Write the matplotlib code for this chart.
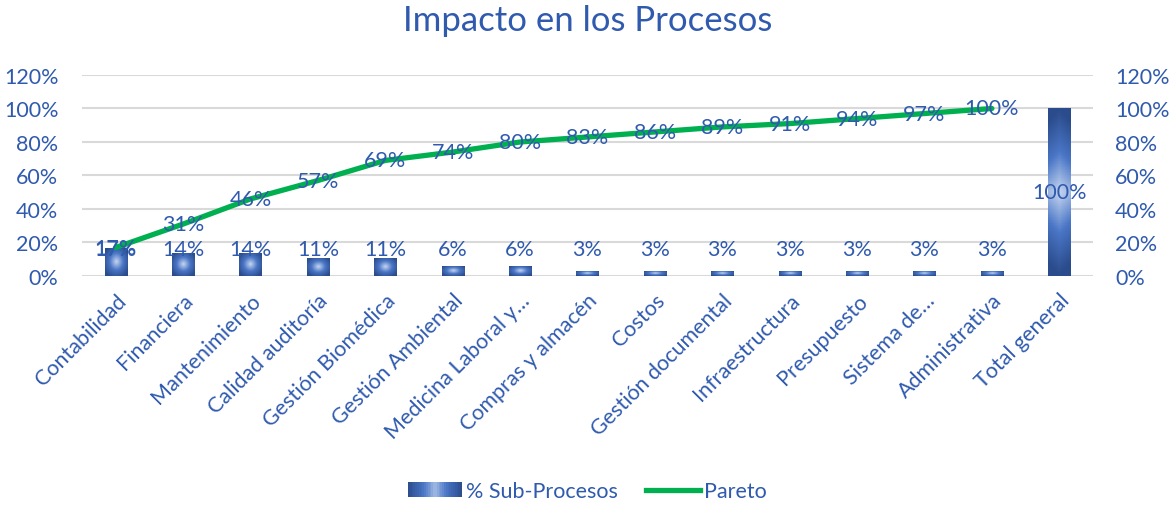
import numpy as np
import matplotlib
matplotlib.use('Agg')
import matplotlib.pyplot as plt
from matplotlib.patches import Rectangle
from matplotlib.lines import Line2D
from matplotlib.colors import LinearSegmentedColormap
from matplotlib.legend_handler import HandlerBase

categories = ['Contabilidad', 'Financiera', 'Mantenimiento', 'Calidad auditoría',
              'Gestión Biomédica', 'Gestión Ambiental', 'Medicina Laboral y…',
              'Compras y almacén', 'Costos', 'Gestión documental', 'Infraestructura',
              'Presupuesto', 'Sistema de…', 'Administrativa', 'Total general']
sub_pct = [17, 14, 14, 11, 11, 6, 6, 3, 3, 3, 3, 3, 3, 3, 100]
pareto = [17, 31, 46, 57, 69, 74, 80, 83, 86, 89, 91, 94, 97, 100]

TXT = '#2F5AAE'
plt.rcParams['font.family'] = ['Lato', 'DejaVu Sans']

fig = plt.figure(figsize=(11.75, 5.06), dpi=100)
ax = fig.add_axes([0.0698, 0.4526, 0.8604, 0.3972])
ax2 = ax.twinx()

x = np.arange(len(categories))
vals = np.array(sub_pct) / 100
cmap = LinearSegmentedColormap.from_list('g', ['#C6D6F0', '#4A76C6', '#2B4C8C'])


class GradHandler(HandlerBase):
    # legend key: horizontal gradient, light in the middle
    def create_artists(self, legend, orig, xd, yd, w, h, fontsize, trans):
        n = 30
        arts = []
        for i in range(n):
            t = 0.15 + 0.85 * abs((i + 0.5) / n - 0.5) * 2
            arts.append(Rectangle((xd + w * i / n, yd), w / n + 0.3, h,
                                  facecolor=cmap(t), edgecolor='none',
                                  transform=trans))
        return arts


# radial-gradient bars
bw = 0.33
yy, xx = np.mgrid[-1:1:60j, -1:1:60j]
for xi, v in zip(x, vals):
    if v > 0.5:
        r = np.abs(yy) * 1.0 + 0.15 * np.abs(xx)
    else:
        r = np.sqrt(xx ** 2 + yy ** 2) / 1.2
    img = ax.imshow(r, cmap=cmap, vmin=0, vmax=1,
                    extent=(xi - bw / 2, xi + bw / 2, 0, v), aspect='auto', zorder=2)
    rect = Rectangle((xi - bw / 2, 0), bw, v, transform=ax.transData,
                     facecolor='none', edgecolor='none')
    ax.add_patch(rect)
    img.set_clip_path(rect)

for xi, v in zip(x, vals):
    ytxt = v / 2 if v > 0.5 else 0.16
    ax.text(xi, ytxt, f'{int(round(v * 100))}%', ha='center', va='center',
            color=TXT, fontsize=15.5, zorder=5)

px = x[:len(pareto)]
pv = np.array(pareto) / 100
ax2.plot(px, pv, color='#00B050', lw=3.8, solid_capstyle='round', zorder=3)
for xi, v in zip(px, pv):
    ax2.text(xi, v, f'{int(round(v * 100))}%', ha='center', va='center',
             color=TXT, fontsize=15.5, zorder=6)

for a in (ax, ax2):
    a.set_ylim(0, 1.2)
    a.set_yticks(np.arange(0, 1.21, 0.2))
    a.set_yticklabels([f'{int(round(t * 100))}%' for t in np.arange(0, 1.21, 0.2)])
    a.tick_params(axis='y', length=0, labelsize=15.5, labelcolor=TXT, pad=17)
    for s in a.spines.values():
        s.set_visible(False)
ax.set_xlim(-0.5, len(categories) - 0.5)
ax.grid(axis='y', color='#D9D9D9', lw=1.5, zorder=0)
ax.set_axisbelow(True)
ax.set_xticks(x)
ax.set_xticklabels(categories, rotation=45, ha='right', rotation_mode='anchor',
                   color=TXT, fontsize=15.5)
ax.tick_params(axis='x', length=0, pad=10)
ax2.tick_params(axis='y', pad=16)

fig.suptitle('Impacto en los Procesos', y=0.99, fontsize=25, color=TXT)

handles = [Rectangle((0, 0), 1, 1), Line2D([0], [0], color='#00B050', lw=3.8)]
fig.legend(handles, ['% Sub-Procesos', 'Pareto'], loc='center', ncol=2,
           bbox_to_anchor=(0.5, 0.027), frameon=False, fontsize=15.5,
           labelcolor=TXT, handlelength=2.5, handletextpad=0.2, columnspacing=1.3,
           handler_map={Rectangle: GradHandler()})

fig.savefig('out.png', dpi=100)
